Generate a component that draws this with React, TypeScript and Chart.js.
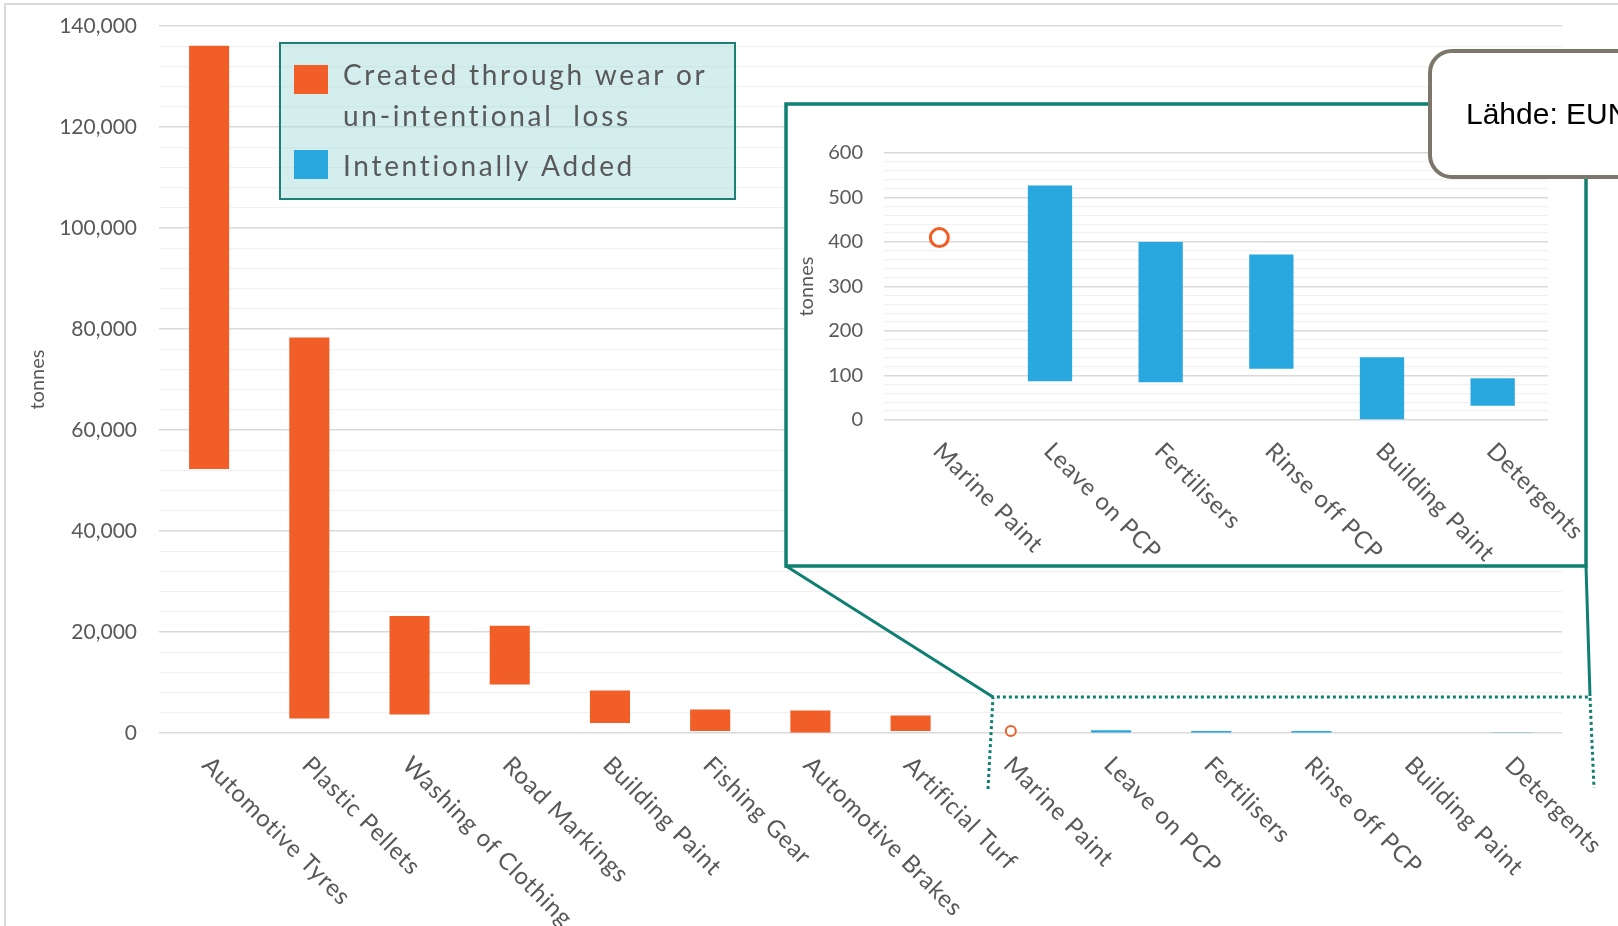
import React, { useEffect, useRef } from 'react';
import { Chart, registerables } from 'chart.js';
Chart.register(...registerables);

// ---------- data ----------
const categories = [
  'Automotive Tyres', 'Plastic Pellets', 'Washing of Clothing', 'Road Markings',
  'Building Paint', 'Fishing Gear', 'Automotive Brakes', 'Artificial Turf',
  'Marine Paint', 'Leave on PCP', 'Fertilisers', 'Rinse off PCP', 'Building Paint', 'Detergents',
];
const wearLow = [52300, 2850, 3650, 9600, 2000, 400, 100, 400];
const wearHigh = [136100, 78300, 23150, 21250, 8400, 4650, 4450, 3450];

const insetCategories = ['Marine Paint', 'Leave on PCP', 'Fertilisers', 'Rinse off PCP', 'Building Paint', 'Detergents'];
const intentionalLow = [null, 87, 85, 115, 0, 32];
const intentionalHigh = [null, 527, 400, 372, 141, 94];
const marinePaint = [410, null, null, null, null, null];

const mainMajorTicks = [0, 20000, 40000, 60000, 80000, 100000, 120000, 140000];
const insetMajorTicks = [0, 100, 200, 300, 400, 500, 600];

const legendLabels = ['Created through wear or', 'un-intentional  loss', 'Intentionally Added'];
const sourceText = 'Lähde: EUNOMIA';

// ---------- styling ----------
const ORANGE = '#F15E27';
const BLUE = '#29A8E0';
const TEAL = '#0F7F72';
const TEXT = '#595959';
const FONT = 'Lato';

const nWear = wearLow.length;

const rotatedLabels = (id: string, labels: string[], size: number, dx: number, dy: number) => ({
  id,
  afterDraw(chart: any) {
    const ctx = chart.ctx;
    const xs = chart.scales.x;
    const yb = chart.chartArea.bottom;
    ctx.save();
    ctx.font = `${size}px ${FONT}`;
    ctx.fillStyle = TEXT;
    ctx.textAlign = 'left';
    ctx.textBaseline = 'middle';
    (ctx as any).letterSpacing = '0.8px';
    labels.forEach((l, i) => {
      const px = xs.getPixelForValue(i);
      ctx.save();
      ctx.translate(px + dx, yb + dy);
      ctx.rotate(Math.PI / 4);
      ctx.fillText(l, 0, 0);
      ctx.restore();
    });
    ctx.restore();
  },
});

const mainDecor = {
  id: 'mainDecor',
  beforeDraw(chart: any) {
    const ctx = chart.ctx;
    ctx.save();
    ctx.strokeStyle = '#dadada';
    ctx.lineWidth = 2;
    ctx.beginPath();
    ctx.moveTo(5, 926);
    ctx.lineTo(5, 4);
    ctx.lineTo(1618, 4);
    ctx.stroke();
    ctx.restore();
  },
  afterDraw(chart: any) {
    const ctx = chart.ctx;
    ctx.save();
    // legend box
    ctx.fillStyle = 'rgba(170, 222, 220, 0.5)';
    ctx.fillRect(280, 43, 455, 156);
    ctx.strokeStyle = '#1E8074';
    ctx.lineWidth = 2;
    ctx.strokeRect(280, 43, 455, 156);
    ctx.fillStyle = ORANGE;
    ctx.fillRect(294, 65, 34, 29);
    ctx.fillStyle = BLUE;
    ctx.fillRect(294, 150, 34, 29);
    ctx.fillStyle = TEXT;
    ctx.font = `28px ${FONT}`;
    (ctx as any).letterSpacing = '2.7px';
    ctx.textAlign = 'left';
    ctx.textBaseline = 'alphabetic';
    ctx.fillText(legendLabels[0], 343, 85);
    ctx.fillText(legendLabels[1], 343, 126);
    ctx.fillText(legendLabels[2], 343, 176);
    ctx.restore();
  },
};

const insetDecor = {
  id: 'insetDecor',
  beforeDraw(chart: any) {
    const ctx = chart.ctx;
    ctx.save();
    ctx.fillStyle = '#ffffff';
    ctx.fillRect(786, 104, 800, 462);
    ctx.restore();
  },
  afterDraw(chart: any) {
    const ctx = chart.ctx;
    ctx.save();
    ctx.strokeStyle = TEAL;
    // inset border
    ctx.lineWidth = 3.5;
    ctx.strokeRect(786, 104, 800, 462);
    // connectors
    ctx.lineWidth = 3;
    ctx.beginPath();
    ctx.moveTo(786, 566);
    ctx.lineTo(993, 697);
    ctx.moveTo(1586, 566);
    ctx.lineTo(1590, 696);
    ctx.stroke();
    // dotted zoom rectangle
    ctx.setLineDash([3, 3]);
    ctx.beginPath();
    ctx.moveTo(988, 789);
    ctx.lineTo(993, 697);
    ctx.lineTo(1590, 697);
    ctx.lineTo(1594, 788);
    ctx.stroke();
    ctx.setLineDash([]);
    // source callout
    ctx.fillStyle = '#ffffff';
    ctx.strokeStyle = '#7C766B';
    ctx.lineWidth = 4;
    ctx.beginPath();
    (ctx as any).roundRect(1430, 51, 260, 126, 22);
    ctx.fill();
    ctx.stroke();
    ctx.fillStyle = '#000000';
    ctx.font = '30px "Liberation Sans"';
    ctx.textAlign = 'left';
    ctx.textBaseline = 'middle';
    ctx.fillText(sourceText, 1466, 116);
    ctx.restore();
  },
};

export default function App() {
  const mainRef = useRef<HTMLCanvasElement>(null);
  const insetRef = useRef<HTMLCanvasElement>(null);

  useEffect(() => {
    const wearData = categories.map((_, i) => (i < nWear ? [wearLow[i], wearHigh[i]] : null));
    const intentData = categories.map((_, i) => {
      const j = i - nWear;
      return j >= 0 && intentionalLow[j] !== null ? [intentionalLow[j], intentionalHigh[j]] : null;
    });
    const marineData = categories.map((_, i) => (i >= nWear ? marinePaint[i - nWear] : null));

    const main = new Chart(mainRef.current!, {
      type: 'bar',
      data: {
        labels: categories,
        datasets: [
          { type: 'bar', data: wearData as any, backgroundColor: ORANGE, grouped: false, barPercentage: 0.4, categoryPercentage: 1 },
          { type: 'bar', data: intentData as any, backgroundColor: BLUE, grouped: false, barPercentage: 0.4, categoryPercentage: 1 },
          { type: 'line', data: marineData as any, showLine: false, clip: false, pointRadius: 5, pointBorderWidth: 2, pointBorderColor: ORANGE, pointBackgroundColor: '#fff' } as any,
        ],
      },
      options: {
        responsive: false,
        animation: false,
        layout: { autoPadding: false, padding: { left: 0, top: 26, right: 56, bottom: 193 } },
        plugins: { legend: { display: false }, tooltip: { enabled: false } },
        scales: {
          x: {
            ticks: { display: false },
            grid: { display: false },
            border: { display: false },
            afterFit: (s: any) => { s.height = 0; },
          },
          y: {
            min: 0,
            max: 140000,
            afterFit: (s: any) => { s.width = 159; },
            border: { display: false },
            grid: {
              drawTicks: true,
              tickLength: 22,
              tickColor: 'rgba(0,0,0,0)',
              color: (c: any) => (mainMajorTicks.includes(c.tick?.value) ? '#d9d9d9' : '#f1f1f1'),
              lineWidth: (c: any) => (mainMajorTicks.includes(c.tick?.value) ? 1.6 : 1.3),
            },
            ticks: {
              stepSize: 4000,
              autoSkip: false,
              padding: 0,
              color: TEXT,
              font: { family: FONT, size: 21 },
              callback: (v: any) => (mainMajorTicks.includes(Number(v)) ? Number(v).toLocaleString('en-US') : ''),
            },
            title: {
              display: true,
              text: 'tonnes',
              color: TEXT,
              font: { family: FONT, size: 20 },
              padding: { top: 26, bottom: 0 },
            },
          },
        },
      },
      plugins: [mainDecor, rotatedLabels('mainLabels', categories, 24, -3, 28)],
    });

    const inset = new Chart(insetRef.current!, {
      type: 'bar',
      data: {
        labels: insetCategories,
        datasets: [
          {
            type: 'bar',
            data: insetCategories.map((_, j) => (intentionalLow[j] !== null ? [intentionalLow[j], intentionalHigh[j]] : null)) as any,
            backgroundColor: BLUE,
            grouped: false,
            barPercentage: 0.4,
            categoryPercentage: 1,
          },
          { type: 'line', data: marinePaint as any, showLine: false, clip: false, pointRadius: 9, pointBorderWidth: 3, pointBorderColor: ORANGE, pointBackgroundColor: '#fff' } as any,
        ],
      },
      options: {
        responsive: false,
        animation: false,
        layout: { autoPadding: false, padding: { left: 786, top: 153, right: 70, bottom: 506 } },
        plugins: { legend: { display: false }, tooltip: { enabled: false } },
        scales: {
          x: {
            ticks: { display: false },
            grid: { display: false },
            border: { display: false },
            afterFit: (s: any) => { s.height = 0; },
          },
          y: {
            min: 0,
            max: 600,
            afterFit: (s: any) => { s.width = 98; },
            border: { display: false },
            grid: {
              drawTicks: true,
              tickLength: 21,
              tickColor: 'rgba(0,0,0,0)',
              color: (c: any) => (insetMajorTicks.includes(c.tick?.value) ? '#d9d9d9' : '#f1f1f1'),
              lineWidth: (c: any) => (insetMajorTicks.includes(c.tick?.value) ? 1.6 : 1.3),
            },
            ticks: {
              stepSize: 20,
              autoSkip: false,
              padding: 0,
              color: TEXT,
              font: { family: FONT, size: 20 },
              callback: (v: any) => (insetMajorTicks.includes(Number(v)) ? String(v) : ''),
            },
            title: {
              display: true,
              text: 'tonnes',
              color: TEXT,
              font: { family: FONT, size: 20 },
              padding: { top: 9, bottom: 0 },
            },
          },
        },
      },
      plugins: [insetDecor, rotatedLabels('insetLabels', insetCategories, 24, -2, 27)],
    });

    return () => {
      main.destroy();
      inset.destroy();
    };
  }, []);

  const cs: React.CSSProperties = { position: 'absolute', left: 0, top: 0, width: 1618, height: 926 };
  return (
    <div style={{ position: 'fixed', left: 0, top: 0, width: 1618, height: 926, background: '#fff', overflow: 'hidden' }}>
      <canvas ref={mainRef} width={1618} height={926} style={cs} />
      <canvas ref={insetRef} width={1618} height={926} style={cs} />
    </div>
  );
}
